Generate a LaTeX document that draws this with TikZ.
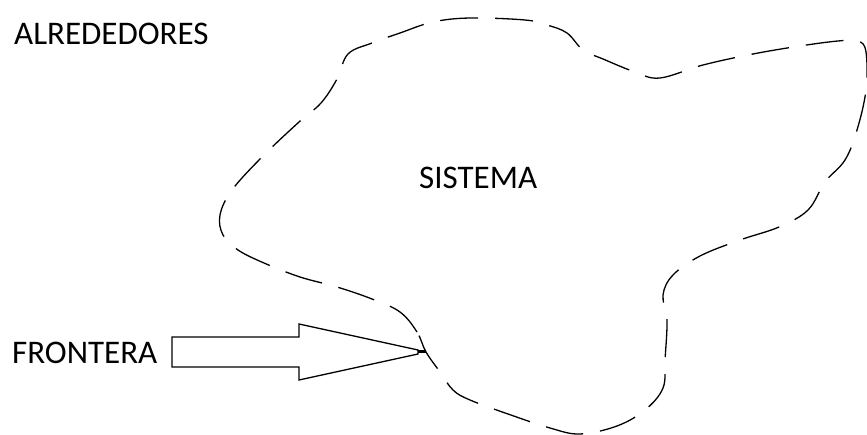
\documentclass[tikz,border=0pt]{standalone}
\usepackage{fontspec}
\setmainfont{Carlito}
\begin{document}
\begin{tikzpicture}[x=1pt,y=-1pt,
  lbl/.style={inner sep=0pt,anchor=base west,font=\fontsize{33}{38}\selectfont},
  boundary/.style={line width=1.3pt,dash pattern=on 38pt off 17pt},
  arrowbody/.style={line width=1.3pt,line join=miter}]
\useasboundingbox (0,0) rectangle (867,435);
\node[lbl] (alr) at (14,45) {ALREDEDORES};
\node[lbl] (sis) at (419,189) {SISTEMA};
\node[lbl] (fro) at (12,363) {FRONTERA};
\draw[boundary] plot[smooth cycle,tension=0.6] coordinates {
 (426,352) (417,332) (400,312) (372,299) (337,287) (300,277) (264,263)
 (238,250) (223,235) (220,215) (232,190) (263,156) (299,122) (321,103)
 (337,79) (348,54) (372,43) (400,33) (433,22) (470,18) (525,20) (547,25)
 (567,33) (583,50) (603,59) (635,72) (660,78) (703,65) (753,54) (800,46)
 (838,41) (858,41) (866,52) (866,90) (857,130) (845,160) (825,182)
 (808,210) (779,227) (740,240) (700,256) (673,275) (663,295) (667,320)
 (665,360) (663,388) (645,410) (617,426) (580,434) (550,428) (508,414)
 (470,400) (453,390) (440,372)};
\coordinate (tip) at (426,352);
\coordinate (neck) at (418,352);
\draw[arrowbody] (172,337) -- (299,337) -- (299,324) -- (418,350) -- (418,354)
  -- (299,380) -- (299,367) -- (172,367) -- cycle;
\draw[line width=3pt] (neck) -- (tip);
\end{tikzpicture}
\end{document}
